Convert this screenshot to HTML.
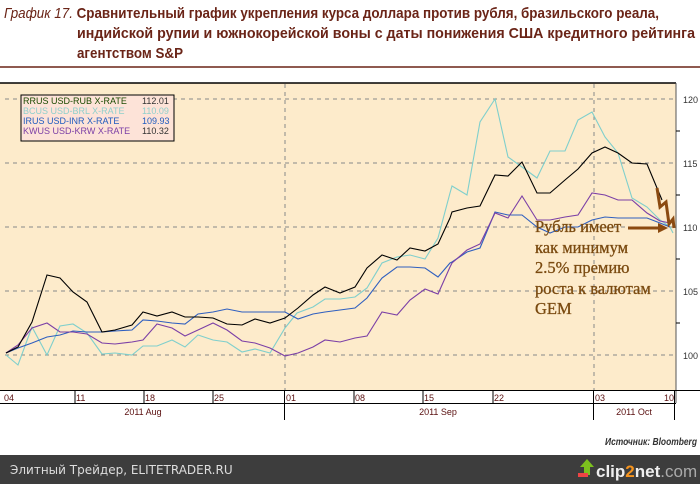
<!DOCTYPE html>
<html><head><meta charset="utf-8"><style>
body{margin:0;width:700px;height:484px;overflow:hidden;background:#fff;font-family:"Liberation Sans",sans-serif;}
</style></head><body>
<svg width="700" height="484" xmlns="http://www.w3.org/2000/svg" style="position:absolute;left:0;top:0">
<text x="4" y="18" font-family="Liberation Sans Narrow, Liberation Sans, sans-serif" font-size="15" font-weight="bold" fill="#6a2417" textLength="655" lengthAdjust="spacingAndGlyphs"><tspan font-style="italic" font-weight="normal">График 17.</tspan> Сравнительный график укрепления курса доллара против рубля, бразильского реала,</text>
<text x="77" y="38" font-family="Liberation Sans Narrow, Liberation Sans, sans-serif" font-size="15" font-weight="bold" fill="#6a2417" textLength="618" lengthAdjust="spacingAndGlyphs">индийской рупии и южнокорейской воны с даты понижения США кредитного рейтинга</text>
<text x="77" y="58" font-family="Liberation Sans Narrow, Liberation Sans, sans-serif" font-size="15" font-weight="bold" fill="#6a2417" textLength="106" lengthAdjust="spacingAndGlyphs">агентством S&amp;P</text>
<line x1="0" y1="67" x2="700" y2="67" stroke="#6a2417" stroke-width="1.5"/>
<rect x="0" y="83" width="676" height="307" fill="#fdebcb"/>
<line x1="0" y1="83" x2="676" y2="83" stroke="#000" stroke-width="1.5"/>
<line x1="676" y1="83" x2="676" y2="403" stroke="#555" stroke-width="1"/>
<g stroke="#888" stroke-dasharray="4,4" stroke-width="1">
<line x1="5" y1="99" x2="676" y2="99"/><line x1="5" y1="163" x2="676" y2="163"/>
<line x1="5" y1="227" x2="676" y2="227"/><line x1="5" y1="291" x2="676" y2="291"/>
<line x1="5" y1="355" x2="676" y2="355"/>
<line x1="285" y1="84" x2="285" y2="390"/><line x1="594" y1="84" x2="594" y2="390"/>
</g>
<g font-size="9" fill="#333">
<text x="683" y="103">120</text><text x="683" y="167">115</text><text x="683" y="231">110</text><text x="683" y="295">105</text><text x="683" y="359">100</text>
</g>
<g stroke="#000" stroke-width="1"><line x1="676" y1="131" x2="680" y2="131"/><line x1="676" y1="195" x2="680" y2="195"/><line x1="676" y1="259" x2="680" y2="259"/><line x1="676" y1="323" x2="680" y2="323"/></g>
<rect x="21" y="95" width="153" height="46" fill="#fde3d8" stroke="#000"/>
<g font-size="9">
<text x="23" y="104" fill="#1a4a00">RRUS  USD-RUB X-RATE</text><text x="142" y="104" fill="#333">112.01</text>
<text x="23" y="114" fill="#8fd0cc">BCUS  USD-BRL X-RATE</text><text x="142" y="114" fill="#8fd0cc">110.09</text>
<text x="23" y="124" fill="#1f5bbf">IRUS  USD-INR X-RATE</text><text x="142" y="124" fill="#1f5bbf">109.93</text>
<text x="23" y="134" fill="#7b3fa6">KWUS  USD-KRW X-RATE</text><text x="142" y="134" fill="#333">110.32</text>
</g>
<g fill="none" stroke-width="1.1">
<polyline stroke="#7fcfcc" points="6,355 18,365 32,327 47,355 60,326 73,324 87,333 102,354 115,353 132,355 143,346 157,346 172,340 185,347 198,335 213,340 227,342 242,352 255,349 270,353 285,328 297,313 313,307 325,299 340,299 355,297 367,288 382,263 397,257 410,255 425,259 438,238 450,193 452,186 467,195 480,122 495,99 508,157 522,167 537,178 550,151 565,151 578,120 592,112 605,137 618,153 632,198 647,207 660,220 670,227 673,233"/>
<polyline stroke="#2f5fbf" points="6,353 18,348 32,343 47,337 60,335 73,331 87,332 102,332 115,331 132,330 143,320 157,321 172,323 185,324 198,314 213,312 227,309 242,312 255,312 270,312 285,312 298,319 313,314 325,312 340,310 355,308 367,298 382,278 397,267 410,267 425,268 438,277 450,263 452,262 467,252 480,248 495,212 508,215 522,215 537,227 550,233 565,227 578,227 592,220 605,217 618,218 632,218 647,218 660,223 670,227"/>
<polyline stroke="#7b3fa6" points="6,353 18,345 32,328 47,323 60,332 73,332 87,334 102,343 115,344 132,342 143,340 157,324 172,328 185,336 198,330 213,323 227,330 242,341 255,343 270,348 285,356 298,353 313,347 325,340 340,342 355,338 367,336 382,312 397,315 410,300 425,289 438,294 450,267 452,263 467,250 480,244 495,213 508,218 522,196 537,220 550,220 565,217 578,215 592,193 605,195 618,200 632,200 647,213 660,221 670,223"/>
<polyline stroke="#000" points="6,353 18,347 32,322 47,275 60,278 73,292 87,302 102,332 115,330 132,325 143,312 157,316 172,312 185,317 198,317 213,318 227,324 242,325 255,319 270,323 285,318 298,308 313,295 325,287 340,293 355,287 367,268 382,255 397,260 410,248 425,251 438,244 450,218 452,212 467,208 480,206 495,175 508,176 522,162 537,193 550,193 565,180 578,169 592,153 605,147 618,153 632,163 647,164 657,188 662,200"/>
</g>
<polyline fill="none" stroke="#8b4a10" stroke-width="3" points="657,188 660,207 666,202 669,224 673,219 674,228"/>
<line x1="628" y1="228" x2="660" y2="228" stroke="#8b4a10" stroke-width="3"/>
<polygon points="658,223 668,228 658,233" fill="#8b4a10"/>
<g font-family="Liberation Serif, serif" font-size="16.5" fill="#7a4a10" stroke="#7a4a10" stroke-width="0.3">
<text x="535" y="232">Рубль имеет</text>
<text x="535" y="253">как минимум</text>
<text x="535" y="273">2.5% премию</text>
<text x="535" y="294">роста к валютам</text>
<text x="535" y="314">GEM</text>
</g>
<g stroke="#000" stroke-width="1">
<line x1="0" y1="390.5" x2="700" y2="390.5"/><line x1="0" y1="403.5" x2="676" y2="403.5"/>
<line x1="75" y1="391" x2="75" y2="403"/><line x1="144" y1="391" x2="144" y2="403"/><line x1="213" y1="391" x2="213" y2="403"/>
<line x1="284.5" y1="391" x2="284.5" y2="420"/><line x1="354" y1="391" x2="354" y2="403"/><line x1="423" y1="391" x2="423" y2="403"/><line x1="493" y1="391" x2="493" y2="403"/>
<line x1="593.5" y1="391" x2="593.5" y2="420"/><line x1="674.5" y1="391" x2="674.5" y2="420"/>
</g>
<g font-size="9" fill="#5a1010">
<text x="4" y="401">04</text><text x="76" y="401">11</text><text x="145" y="401">18</text><text x="214" y="401">25</text>
<text x="286" y="401">01</text><text x="355" y="401">08</text><text x="424" y="401">15</text><text x="494" y="401">22</text>
<text x="595" y="401">03</text><text x="664" y="401">10</text>
</g>
<g font-size="9" fill="#5a1010" text-anchor="middle">
<text x="143" y="415">2011 Aug</text><text x="438" y="415">2011 Sep</text><text x="634" y="415">2011 Oct</text>
</g>
<text x="697" y="445" text-anchor="end" font-size="10" font-style="italic" font-weight="bold" fill="#333" textLength="92" lengthAdjust="spacingAndGlyphs">Источник: Bloomberg</text>
<rect x="0" y="455" width="700" height="29" fill="#3d3d3d"/>
<text x="10" y="474" font-family="DejaVu Sans, sans-serif" font-size="12" fill="#ddd">Элитный Трейдер, ELITETRADER.RU</text>
<polygon points="580,467 587,459 594,467 590,467 590,475 584,475 584,467" fill="#7cc11e"/>
<rect x="578" y="473" width="10" height="4" fill="#e44"/>
<text x="596" y="477" font-size="17" font-weight="bold" fill="#eee">clip<tspan fill="#f7941d">2</tspan>net<tspan fill="#aaa" font-weight="normal">.com</tspan></text>
</svg>
</body></html>
